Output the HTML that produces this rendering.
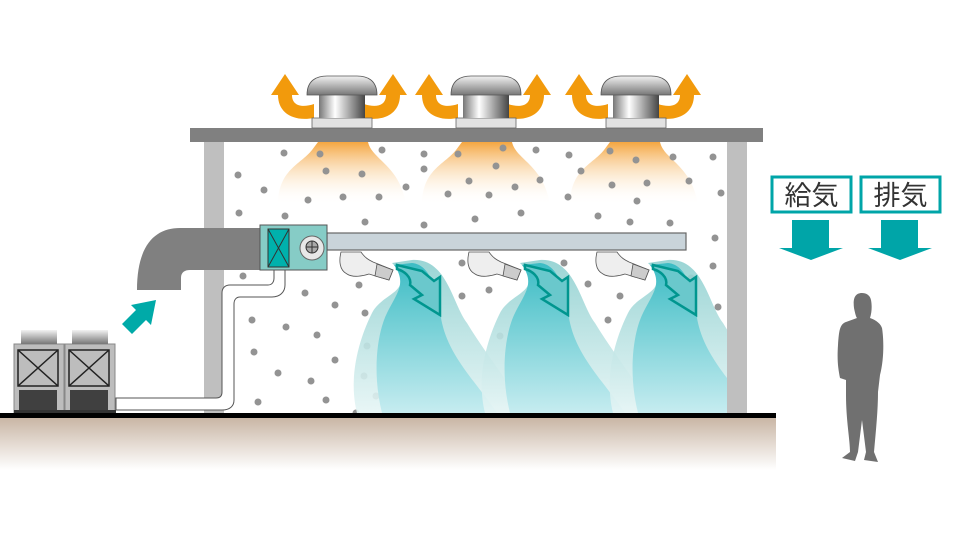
<!DOCTYPE html>
<html><head><meta charset="utf-8"><style>html,body{margin:0;padding:0;background:#fff}svg{display:block}</style></head><body>
<svg width="956" height="536" viewBox="0 0 956 536" xmlns="http://www.w3.org/2000/svg">
<defs>
<clipPath id="room"><rect x="224" y="142" width="503" height="271"/></clipPath>
<linearGradient id="gnd" x1="0" y1="0" x2="0" y2="1"><stop offset="0" stop-color="#c9b6a5"/><stop offset="1" stop-color="#fff"/></linearGradient>
<linearGradient id="org" x1="0" y1="0" x2="0" y2="1"><stop offset="0" stop-color="#f4a640"/><stop offset="1" stop-color="#fff" stop-opacity="0"/></linearGradient>
<linearGradient id="cyl" x1="0" y1="0" x2="1" y2="0"><stop offset="0" stop-color="#777"/><stop offset=".35" stop-color="#fff"/><stop offset="1" stop-color="#444"/></linearGradient>
<linearGradient id="cap" x1="0" y1="0" x2="0" y2="1"><stop offset="0" stop-color="#f2f2f2"/><stop offset="1" stop-color="#777"/></linearGradient>
<linearGradient id="bl1" x1="0" y1="0" x2="0" y2="1"><stop offset="0" stop-color="#8fd0d0"/><stop offset="1" stop-color="#e6f5f5"/></linearGradient>
<linearGradient id="bl2" x1="0" y1="0" x2="0" y2="1"><stop offset="0" stop-color="#3cbcc4"/><stop offset="1" stop-color="#c6ecf0"/></linearGradient>
<g id="fan">
<path d="M-28 26 C-50 30 -64 20 -64 3 L-71 3 L-57 -18 L-43 3 L-50 3 C-50 14 -40 16 -28 12Z" fill="#f29a0c"/>
<path d="M22 26 C44 30 58 20 58 3 L65 3 L51 -18 L37 3 L44 3 C44 14 34 16 22 12Z" fill="#f29a0c"/>
<rect x="-30" y="26" width="60" height="10" fill="#e2e2e2" stroke="#666" stroke-width=".8"/>
<rect x="-23" y="0" width="46" height="26" fill="url(#cyl)"/>
<path d="M-35 3 C-35 -12 -25 -16 -15 -16 L15 -16 C25 -16 35 -12 35 3Z" fill="url(#cap)" stroke="#555" stroke-width=".8"/>
</g>
<g id="plume">
<path d="M0 0 L20 -3 C55 -5 60 40 75 60 C90 85 110 110 125 135 L125 150 L-35 150 C-45 110 -30 70 -20 50 C-10 30 20 30 5 5Z" fill="url(#bl1)" opacity=".9"/>
<path d="M2 2 L20 0 C40 2 45 30 50 60 C58 95 85 120 105 150 L-10 150 C-20 110 -15 70 -5 50 C5 30 15 20 2 2Z" fill="url(#bl2)"/>
<path d="M5 2 L30 8 L42 18 L48 14 L48 52 L22 36 L30 32 L18 22 C20 14 12 8 5 6Z" fill="#6ac8cc" stroke="#00968f" stroke-width="2.5" stroke-linejoin="miter"/>
</g>
<g id="noz">
<path d="M-16 -2 L4 -2 C8 4 12 6 16 8 L36 16 L32 26 L12 20 C6 22 -4 24 -10 20 C-18 16 -18 6 -16 -2Z" fill="#eee" stroke="#555" stroke-width=".8"/>
<path d="M20 10 L36 16 L32 26 L18 22Z" fill="#ccc" stroke="#555" stroke-width=".8"/>
</g>
<g id="ou">
<rect x="0" y="14" width="50" height="70" fill="#bdbdbd" stroke="#888"/>
<rect x="7" y="0" width="36" height="14" fill="url(#cap)"/>
<rect x="4" y="20" width="40" height="36" fill="none" stroke="#222" stroke-width="1.5"/>
<path d="M4 20 L44 56 M44 20 L4 56" stroke="#222" stroke-width="1.5"/>
<rect x="5" y="60" width="38" height="20" fill="#404040"/>
</g>
</defs>
<rect x="0" y="418" width="776" height="52" fill="url(#gnd)"/>
<g fill="url(#org)">
<path d="M278 205 C278 170 300 165 312 150 L318 142 L368 142 C372 160 400 165 406 205Z"/>
<path d="M422 205 C422 170 444 165 456 150 L462 142 L512 142 C516 160 544 165 550 205Z"/>
<path d="M570 205 C570 170 592 165 604 150 L610 142 L660 142 C664 160 692 165 698 205Z"/>
</g>
<rect x="204" y="142" width="20" height="273" fill="#bfbfbf"/>
<g fill="#939393">
<circle cx="284" cy="153" r="3.5"/><circle cx="320" cy="154" r="3.5"/><circle cx="382" cy="150" r="3.5"/><circle cx="326" cy="171" r="3.5"/><circle cx="362" cy="174" r="3.5"/><circle cx="264" cy="190" r="3.5"/><circle cx="308" cy="200" r="3.5"/><circle cx="343" cy="197" r="3.5"/><circle cx="379" cy="197" r="3.5"/><circle cx="406" cy="187" r="3.5"/><circle cx="285" cy="216" r="3.5"/><circle cx="365" cy="222" r="3.5"/><circle cx="424" cy="154" r="3.5"/><circle cx="424" cy="169" r="3.5"/><circle cx="458" cy="154" r="3.5"/><circle cx="503" cy="148" r="3.5"/><circle cx="496" cy="166" r="3.5"/><circle cx="536" cy="150" r="3.5"/><circle cx="469" cy="181" r="3.5"/><circle cx="448" cy="194" r="3.5"/><circle cx="489" cy="195" r="3.5"/><circle cx="515" cy="187" r="3.5"/><circle cx="540" cy="180" r="3.5"/><circle cx="424" cy="225" r="3.5"/><circle cx="475" cy="219" r="3.5"/><circle cx="521" cy="213" r="3.5"/><circle cx="569" cy="155" r="3.5"/><circle cx="581" cy="171" r="3.5"/><circle cx="610" cy="151" r="3.5"/><circle cx="636" cy="160" r="3.5"/><circle cx="673" cy="157" r="3.5"/><circle cx="713" cy="157" r="3.5"/><circle cx="612" cy="185" r="3.5"/><circle cx="647" cy="183" r="3.5"/><circle cx="689" cy="181" r="3.5"/><circle cx="568" cy="197" r="3.5"/><circle cx="637" cy="201" r="3.5"/><circle cx="598" cy="216" r="3.5"/><circle cx="630" cy="222" r="3.5"/><circle cx="670" cy="223" r="3.5"/><circle cx="721" cy="193" r="3.5"/><circle cx="238" cy="175" r="3.5"/>
<circle cx="239" cy="213" r="3.5"/><circle cx="243" cy="276" r="3.5"/><circle cx="305" cy="293" r="3.5"/><circle cx="335" cy="305" r="3.5"/><circle cx="252" cy="320" r="3.5"/><circle cx="286" cy="327" r="3.5"/><circle cx="317" cy="335" r="3.5"/><circle cx="254" cy="352" r="3.5"/><circle cx="335" cy="360" r="3.5"/><circle cx="278" cy="373" r="3.5"/><circle cx="311" cy="381" r="3.5"/><circle cx="258" cy="402" r="3.5"/><circle cx="326" cy="400" r="3.5"/><circle cx="356" cy="413" r="3.5"/><circle cx="359" cy="285" r="3.5"/><circle cx="365" cy="313" r="3.5"/><circle cx="367" cy="346" r="3.5"/><circle cx="364" cy="376" r="3.5"/><circle cx="376" cy="396" r="3.5"/><circle cx="462" cy="263" r="3.5"/><circle cx="462" cy="296" r="3.5"/><circle cx="489" cy="290" r="3.5"/><circle cx="500" cy="336" r="3.5"/><circle cx="564" cy="263" r="3.5"/><circle cx="588" cy="284" r="3.5"/><circle cx="608" cy="320" r="3.5"/><circle cx="620" cy="296" r="3.5"/><circle cx="715" cy="238" r="3.5"/><circle cx="713" cy="266" r="3.5"/><circle cx="718" cy="307" r="3.5"/><circle cx="667" cy="271" r="3.5"/><circle cx="691" cy="278" r="3.5"/>
</g>
<rect x="190" y="128" width="573" height="14" fill="#808080"/>
<use href="#fan" x="342" y="92"/><use href="#fan" x="486" y="92"/><use href="#fan" x="636" y="92"/>
<g clip-path="url(#room)">
<use href="#plume" x="392" y="263"/><use href="#plume" x="520" y="263"/><use href="#plume" x="648" y="263"/>
</g>
<rect x="727" y="142" width="20" height="273" fill="#bfbfbf"/>
<path d="M262 228 L180 228 C155 228 137 245 137 290 L181 290 L181 278 C181 272 185 270 190 270 L262 270Z" fill="#808080"/>
<path d="M116 398 L216 398 C220 398 222 396 222 392 L222 293 C222 288 225 285 230 285 L268 285 C272 285 274 282 274 278 L274 268 L285 268 L285 285 C285 292 280 297 272 297 L240 297 C236 297 234 300 234 304 L234 400 C234 406 230 410 222 410 L116 410Z" fill="#fff" stroke="#555" stroke-width="1"/>
<rect x="327" y="233" width="359" height="17" fill="#c9d4da" stroke="#666" stroke-width="1.2"/>
<rect x="260" y="225" width="67" height="45" fill="#86ccc6" stroke="#555" stroke-width="1"/>
<rect x="268" y="229" width="21" height="38" fill="#00b1ac" stroke="#333"/>
<path d="M268 229 L289 267 M289 229 L268 267" stroke="#333"/>
<circle cx="312" cy="248" r="12" fill="#e8e8e8" stroke="#666"/>
<circle cx="312" cy="247" r="6" fill="#aaa" stroke="#333"/>
<path d="M306 247h12M312 241v12" stroke="#333"/>
<use href="#noz" x="357" y="254"/><use href="#noz" x="485" y="254"/><use href="#noz" x="613" y="254"/>
<use href="#ou" x="14" y="330"/><use href="#ou" x="65" y="330"/>
<rect x="14" y="410" width="102" height="4" fill="#333"/>
<path d="M122 324 L136 310 L131 305 L156 300 L151 325 L146 320 L132 334Z" fill="#00aaa8"/>
<rect x="0" y="413" width="776" height="5" fill="#000"/>
<g font-family="'Liberation Sans','Noto Sans CJK JP',sans-serif" font-size="27" fill="#333">
<rect x="772" y="177" width="79" height="35" fill="#fff" stroke="#00a5a8" stroke-width="3"/>
<text x="811.5" y="205" text-anchor="middle">給気</text>
<rect x="861" y="177" width="79" height="35" fill="#fff" stroke="#00a5a8" stroke-width="3"/>
<text x="900.5" y="205" text-anchor="middle">排気</text>
</g>
<path d="M792 220h37v28h14l-32 12l-32-12h13z" fill="#00a5a8"/>
<path d="M881 220h37v28h14l-32 12l-32-12h13z" fill="#00a5a8"/>
<path d="M862 293 C854 293 853 300 854 308 C855 313 856 317 857 318 L846 322 C840 324 839 330 838 345 C837 360 838 368 840 378 L846 380 L846 395 C846 420 850 440 850 452 L842 458 L855 461 L858 452 L862 420 L866 452 L864 460 L878 462 L874 452 C876 430 878 410 878 392 L880 375 C884 360 884 340 882 328 C880 322 873 319 870 318 C872 312 872 305 871 300 C870 295 866 293 862 293Z" fill="#707070"/>
</svg>
</body></html>
